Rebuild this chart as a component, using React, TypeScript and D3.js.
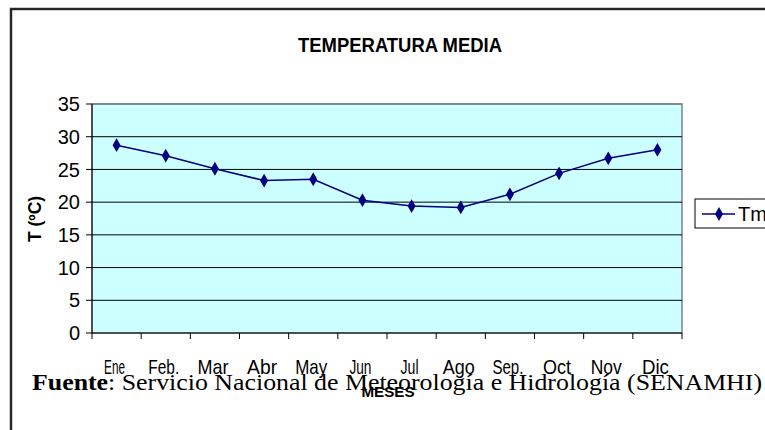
import React from "react";
import * as d3 from "d3";

const months = ["Ene", "Feb.", "Mar", "Abr", "May", "Jun", "Jul", "Ago", "Sep.", "Oct", "Nov", "Dic"];
const tm = [28.7, 27.1, 25.1, 23.3, 23.5, 20.3, 19.4, 19.2, 21.2, 24.4, 26.7, 28.0];
const yTicks = [0, 5, 10, 15, 20, 25, 30, 35];
const labelWidths = [21, 31, 31, 30, 32, 22, 18, 32, 31, 28, 31, 27];

export default function App() {
  const L = 92, R = 682, T = 104, B = 333;
  const x = d3.scaleBand<string>().domain(months).range([L, R]);
  const y = d3.scaleLinear().domain([0, 35]).range([B, T]);
  const line = d3.line<number>().x((_, i) => x(months[i])! + x.bandwidth() / 2).y((d) => y(d));
  const diamond = d3.symbol().type(d3.symbolDiamond).size(55)()!;
  const arial = "Liberation Sans, Arial, sans-serif";
  const times = "Liberation Serif, Times New Roman, serif";
  const bounds = months.map((_, i) => L + i * x.bandwidth()).concat([R]);
  return (
    <svg width={765} height={430} style={{ position: "absolute", left: 0, top: 0, background: "#fff" }}>
      <path d="M11,432 L11,9 L767,9" fill="none" stroke="#999" strokeWidth={3} />
      <path d="M11,432 L11,9 L767,9" fill="none" stroke="#000" strokeWidth={1.5} />
      <text x={400} y={52} textAnchor="middle" fontFamily={arial} fontWeight="bold" fontSize={21}
        textLength={204} lengthAdjust="spacingAndGlyphs">TEMPERATURA MEDIA</text>
      <rect x={L} y={T} width={R - L} height={B - T} fill="#ccffff" stroke="#808080" strokeWidth={1.5} />
      {yTicks.filter((t) => t > 0).map((t) => (
        <line key={t} x1={L} x2={R} y1={y(t)} y2={y(t)} stroke={t === 35 ? "#808080" : "#000"} strokeWidth={t === 35 ? 1.5 : 1} />
      ))}
      <line x1={L} x2={L} y1={T} y2={B} stroke="#000" strokeWidth={1} />
      <line x1={L} x2={R} y1={B} y2={B} stroke="#000" strokeWidth={1} />
      {yTicks.map((t) => (
        <g key={t}>
          <line x1={86} x2={L} y1={y(t)} y2={y(t)} stroke="#000" />
          <text x={80} y={y(t)} dy="0.36em" textAnchor="end" fontFamily={arial} fontSize={20}>{t}</text>
        </g>
      ))}
      {bounds.map((b, i) => (
        <line key={i} x1={b} x2={b} y1={B} y2={B + 6} stroke="#000" />
      ))}
      {months.map((m, i) => (
        <text key={m} x={x(m)! + x.bandwidth() / 2 - 2} y={374} textAnchor="middle" fontFamily={arial} fontSize={21}
          textLength={labelWidths[i]} lengthAdjust="spacingAndGlyphs">{m}</text>
      ))}
      <text transform="translate(41,219) rotate(-90)" textAnchor="middle" fontFamily={arial} fontWeight="bold" fontSize={18}
        textLength={46} lengthAdjust="spacingAndGlyphs">T (ºC)</text>
      <path d={line(tm)!} fill="none" stroke="#000080" strokeWidth={1.5} />
      {tm.map((v, i) => (
        <path key={i} d={diamond} transform={`translate(${x(months[i])! + x.bandwidth() / 2},${y(v)})`} fill="#000080" />
      ))}
      <rect x={695} y={199} width={80} height={29} fill="#fff" stroke="#000" strokeWidth={1} />
      <line x1={702} x2={735} y1={214} y2={214} stroke="#000080" strokeWidth={1.5} />
      <path d={diamond} transform="translate(719,214)" fill="#000080" />
      <text x={738} y={221} fontFamily={arial} fontSize={20}>Tm</text>
      <text x={32} y={390} fontFamily={times} fontSize={24} textLength={730} lengthAdjust="spacingAndGlyphs">
        <tspan fontWeight="bold">Fuente</tspan>: Servicio Nacional de Meteorología e Hidrología (SENAMHI)
      </text>
      <text x={388} y={397} textAnchor="middle" fontFamily={arial} fontWeight="bold" fontSize={15}
        textLength={53} lengthAdjust="spacingAndGlyphs">MESES</text>
    </svg>
  );
}
